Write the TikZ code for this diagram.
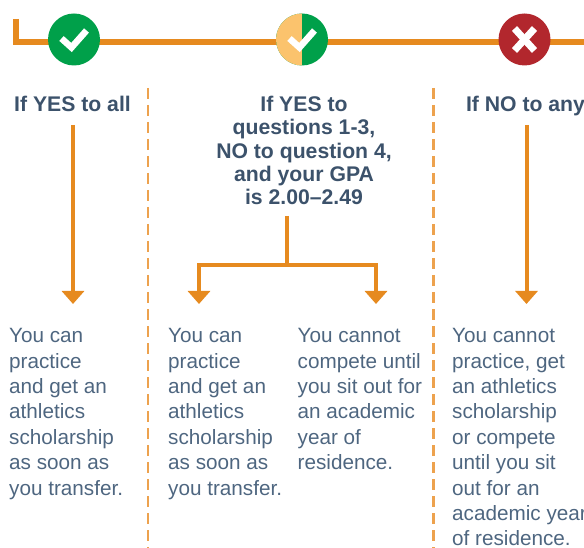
\documentclass[tikz,border=0pt]{standalone}
\usepackage{fontspec}
\usepackage{xcolor}
\setmainfont{Liberation Sans}
\usetikzlibrary{arrows.meta}
\definecolor{lineorange}{HTML}{E68A1F}
\definecolor{dashorange}{HTML}{EDA24E}
\definecolor{yesgreen}{HTML}{00A04A}
\definecolor{halfyellow}{HTML}{FBC36D}
\definecolor{nored}{HTML}{B2272D}
\definecolor{headblue}{HTML}{3C526B}
\definecolor{bodyblue}{HTML}{4E6680}

\begin{document}
\begin{tikzpicture}[x=1pt, y=-1pt]
\tikzstyle{badge} = [circle, minimum size=52 pt, inner sep=0 pt]
\tikzstyle{heading} = [align=center, anchor=north, inner sep=0 pt, text=headblue, font=\bfseries\fontsize{21.2}{23.3}\selectfont]
\tikzstyle{body} = [align=left, anchor=north west, inner sep=0 pt, text=bodyblue, font=\fontsize{20.7}{25.35}\selectfont]
\tikzstyle{flow} = [draw=lineorange, line width=4 pt]
\tikzstyle{flowarrow} = [flow, -{Triangle[width=22pt, length=13pt]}]
\tikzstyle{divider} = [draw=dashorange, line width=2.4 pt, dash pattern=on 11pt off 6pt]
\tikzstyle{glyph} = [draw=white, line width=6.5 pt]

\useasboundingbox (0,0) rectangle (584,548);

\coordinate (linestart) at (15.5,19);
\coordinate (lineend) at (584,42);
\draw [lineorange, line width=6 pt] (linestart) |- (lineend);

% status badges on the line
\node (yes)  [badge, fill=yesgreen] at (74,39.5) {};
\node (part) [badge, fill=yesgreen, path picture={\fill [halfyellow] ([xshift=-30pt, yshift=30pt]part.center) rectangle ([yshift=-30pt]part.center);}] at (302,39.5) {};
\node (no)   [badge, fill=nored] at (524.5,39.5) {};

\draw [glyph] ([shift={(-12.5,-1)}]yes.center) -- ++(10,9) -- ++(15,-17);
\draw [glyph] ([shift={(-12.5,-1)}]part.center) -- ++(10,9) -- ++(15,-17);
\draw [glyph, line width=7 pt] ([shift={(-10,-11)}]no.center) -- ([shift={(10,11)}]no.center);
\draw [glyph, line width=7 pt] ([shift={(10,-11)}]no.center) -- ([shift={(-10,11)}]no.center);

% column dividers
\coordinate (divonetop) at (148,88);
\coordinate (divonebot) at (148,548);
\coordinate (divtwotop) at (433.5,88);
\coordinate (divtwobot) at (433.5,548);
\draw [divider] (divonetop) -- (divonebot);
\draw [divider] (divtwotop) -- (divtwobot);

\node (headall)  [heading] at (72.5,96) {If YES to all};
\node (headsome) [heading] at (304,96) {If YES to\\questions 1-3,\\NO to question 4,\\and your GPA\\is 2.00--2.49};
\node (headany)  [heading] at (525.5,96) {If NO to any};

\node (bodyall) [body] at (9,328.5) {You can\\practice\\and get an\\athletics\\scholarship\\as soon as\\you transfer.};
\node (bodyyes) [body] at (168,328.5) {You can\\practice\\and get an\\athletics\\scholarship\\as soon as\\you transfer.};
\node (bodysit) [body] at (297.5,328.5) {You cannot\\compete until\\you sit out for\\an academic\\year of\\residence.};
\node (bodyany) [body] at (452,328.5) {You cannot\\practice, get\\an athletics\\scholarship\\or compete\\until you sit\\out for an\\academic year\\of residence.};

\coordinate (stemall) at (73,125);
\coordinate (stemany) at (526.5,125);
\coordinate (tipall) at (73,304);
\coordinate (tipyes) at (199,304);
\coordinate (tipsit) at (376,304);
\coordinate (tipany) at (526.5,304);
\coordinate (forkstem) at (287,216);
\coordinate (forkjoin) at (287,265);

\draw [flowarrow] (stemall) -- (tipall);
\draw [flowarrow] (stemany) -- (tipany);
\draw [flow] (forkstem) -- (forkjoin);
\draw [flowarrow] (forkjoin) -| (tipyes);
\draw [flowarrow] (forkjoin) -| (tipsit);

\end{tikzpicture}
\end{document}
